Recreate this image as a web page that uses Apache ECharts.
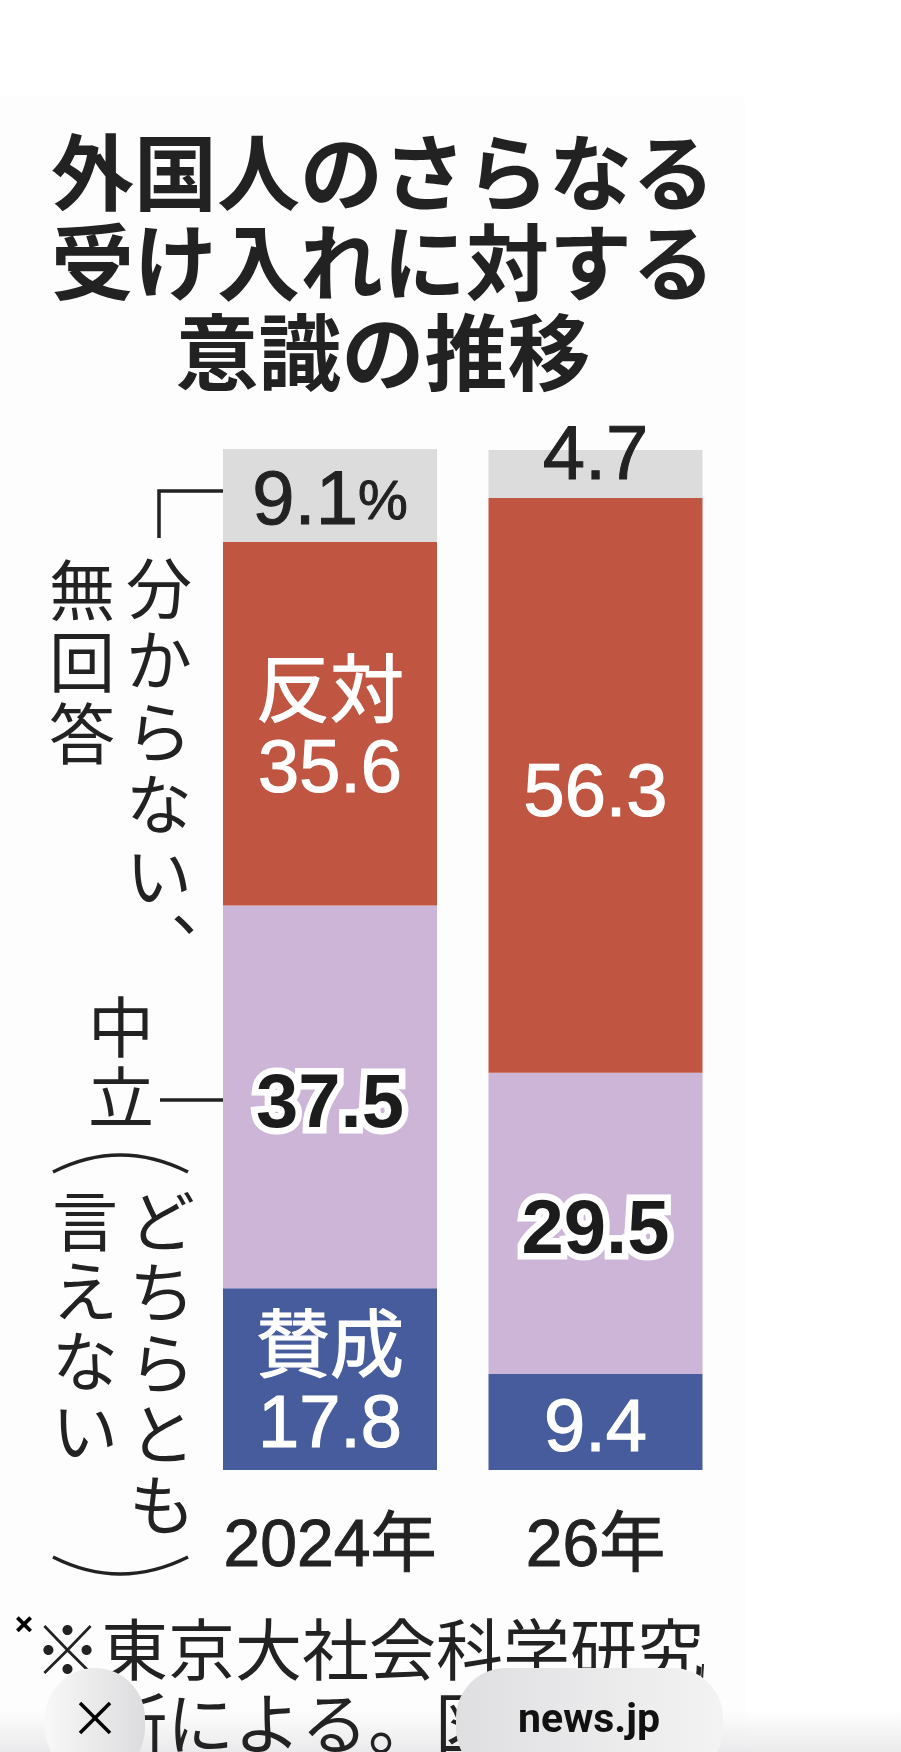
<!DOCTYPE html>
<html lang="ja">
<head>
<meta charset="utf-8">
<style>html,body{margin:0;padding:0;background:#fff}#c{width:901px;height:1752px}</style>
<script src="https://cdn.jsdelivr.net/npm/echarts@6/dist/echarts.min.js"></script>
</head>
<body>
<div id="c"></div>
<script>
const categories = ['2024年', '26年'];
const support = [17.8, 9.4];
const neutral = [37.5, 29.5];
const oppose = [35.6, 56.3];
const unknown = [9.1, 4.7];
const titleText = '外国人のさらなる\n受け入れに対する\n意識の推移';
const noteLine1 = '※東京大社会科学研究';
const noteLine2 = '所による。図';

const JP = '"Noto Sans CJK JP"';
const NUM = '"Liberation Sans","Noto Sans CJK JP"';
const INK = '#222222';

function seg(values, color, labelFn) {
  return {
    type: 'bar', stack: 'a', barWidth: 214,
    itemStyle: { color },
    data: values.map((v, i) => ({ value: v, label: labelFn(v, i) }))
  };
}
const whiteText = { color: '#fff', fontSize: 74, fontFamily: NUM, lineHeight: 76, textBorderColor: '#fff', textBorderWidth: 1.2 };

const option = {
  animation: false,
  backgroundColor: '#ffffff',
  title: {
    text: titleText, left: 378, top: 122, textAlign: 'center',
    textStyle: { fontFamily: JP, fontWeight: 'bold', fontSize: 83, lineHeight: 90, color: INK }
  },
  grid: { left: 197.25, top: 449, width: 531, height: 1021 },
  xAxis: {
    type: 'category', data: categories,
    axisLine: { show: false }, axisTick: { show: false },
    axisLabel: { interval: 0, color: INK, fontFamily: NUM, fontSize: 66, margin: 40, lineHeight: 76, textBorderColor: INK, textBorderWidth: 1 }
  },
  yAxis: { type: 'value', min: 0, max: 100, show: false },
  series: [
    seg(support, '#465c9c', (v, i) => ({
      show: true, position: 'inside', offset: [0, 9], ...whiteText,
      formatter: i === 0 ? '賛成\n' + v.toFixed(1) : v.toFixed(1)
    })),
    seg(neutral, '#ccb5d6', (v) => ({
      show: true, position: 'inside', offset: [0, 9], color: '#1c1c1c', fontSize: 76, fontFamily: NUM, fontWeight: 'bold',
      textBorderColor: '#ffffff', textBorderWidth: 13, formatter: v.toFixed(1)
    })),
    seg(oppose, '#c05541', (v, i) => ({
      show: true, position: 'inside', offset: [0, 10], ...whiteText,
      formatter: i === 0 ? '反対\n' + v.toFixed(1) : v.toFixed(1)
    })),
    seg(unknown, '#dcdcdc', (v, i) => ({
      show: true, position: 'inside', offset: i === 0 ? [0, 8] : [0, -16],
      color: INK, fontSize: 76, fontFamily: NUM, textBorderColor: INK, textBorderWidth: 1,
      formatter: i === 0 ? '{n|' + v.toFixed(1) + '}{p|%}' : v.toFixed(1),
      rich: {
        n: { fontSize: 76, fontFamily: NUM, color: INK, textBorderColor: INK, textBorderWidth: 1 },
        p: { fontSize: 56, fontFamily: NUM, color: INK }
      }
    }))
  ],
  graphic: { elements: [
    { type: 'rect', z: -1, silent: true, shape: { x: 0, y: 97, width: 745, height: 1655 }, style: { fill: '#fdfdfd' } },
    vtext('分からない', 159, 552, 72, 66),
    { type: 'text', z: 5, style: { text: '、', x: 171, y: 872, font: '66px ' + JP, fill: INK } },
    vtext('無回答', 82, 554, 72, 66),
    vtext('中立', 121, 992, 70, 66),
    vtext('どちらとも', 162, 1185, 71, 66),
    vtext('言えない', 85, 1186, 70, 66),
    line([[223, 491], [159, 491], [159, 538]], 3.5),
    line([[160, 1100], [223, 1100]], 3.5),
    curve(53, 1172, 120, 1138, 188, 1172),
    curve(53, 1557, 120, 1591, 188, 1557),
    { type: 'rect', z: 4, silent: true, shape: { x: 0, y: 1710, width: 901, height: 42 },
      style: { fill: { type: 'linear', x: 0, y: 0, x2: 0, y2: 1, colorStops: [
        { offset: 0, color: 'rgba(232,232,234,0)' }, { offset: 1, color: 'rgba(232,232,234,0.9)' }] } } },
    { type: 'text', z: 5, style: { text: noteLine1, x: 34, y: 1650, font: '67px ' + JP, fill: INK, verticalAlign: 'middle' } },
    { type: 'text', z: 5, style: { text: noteLine2, x: 100, y: 1724, font: '67px ' + JP, fill: INK, verticalAlign: 'middle' } },
    line([[703, 1664], [702, 1680]], 2),
    pill(45, 1668, 100, 110, '#f8f8f8', '#dcdcde'),
    pill(456, 1668, 267, 110, '#dfdfe1', '#f3f3f4'),
    { type: 'text', z: 8, style: { text: '×', x: 24, y: 1627, font: 'bold 36px "Noto Sans"', fill: '#000', align: 'center', verticalAlign: 'middle' } },
    line([[80, 1703], [110, 1733]], 3.5, '#000', 8),
    line([[110, 1703], [80, 1733]], 3.5, '#000', 8),
    { type: 'text', z: 8, style: { text: 'news.jp', x: 589, y: 1722, font: 'bold 41px Roboto', fill: '#111', align: 'center', verticalAlign: 'middle' } }
  ] }
};

function vtext(s, cx, top, pitch, size) {
  return { type: 'text', z: 5, style: {
    text: s.split('').join('\n'), x: cx, y: top, align: 'center', verticalAlign: 'top',
    font: size + 'px ' + JP, lineHeight: pitch, fill: INK } };
}
function line(points, w, color, z) {
  return { type: 'polyline', z: z || 5, silent: true, shape: { points },
    style: { stroke: color || INK, lineWidth: w || 3, fill: null } };
}
function curve(x1, y1, cx, cy, x2, y2) {
  return { type: 'bezierCurve', z: 5, silent: true,
    shape: { x1, y1, x2, y2, cpx1: cx, cpy1: cy },
    style: { stroke: INK, lineWidth: 3.5, fill: null } };
}
function pill(x, y, w, h, c1, c2) {
  return { type: 'rect', z: 7, silent: true, shape: { x, y, width: w, height: h, r: 50 },
    style: { fill: { type: 'linear', x: 0, y: 0, x2: 1, y2: 0, colorStops: [
      { offset: 0, color: c1 }, { offset: 1, color: c2 }] } } };
}

echarts.init(document.getElementById('c')).setOption(option);
</script>
</body>
</html>
